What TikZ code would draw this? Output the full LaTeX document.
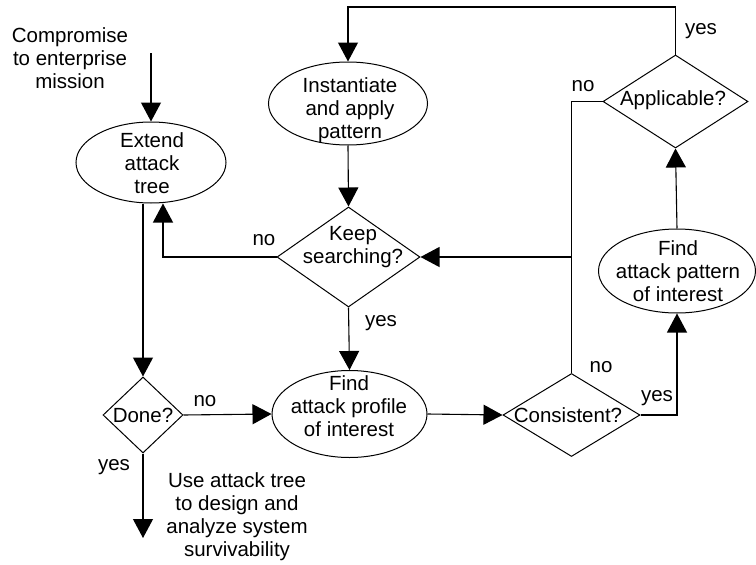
\documentclass[tikz,border=0pt]{standalone}
\usepackage{fontspec}
\setmainfont{Liberation Sans}
\usetikzlibrary{shapes.geometric,arrows.meta}
\begin{document}
\begin{tikzpicture}[x=1pt,y=-1pt,
  line width=1.1pt,
  arr/.style={-{Triangle[length=19pt,width=20pt]}},
  ell/.style={draw,ellipse,inner sep=0pt,line width=1pt},
  dia/.style={draw,diamond,inner sep=0pt,line width=1pt},
  txt/.style={inner sep=0pt,align=center,font=\fontsize{20.5}{23}\selectfont},
  lbl/.style={inner sep=0pt,font=\fontsize{20.5}{23}\selectfont}]
\useasboundingbox (0,0) rectangle (756,565);
% shapes
\node[ell,minimum width=150pt,minimum height=81pt] (ext) at (151,162.5) {};
\node[ell,minimum width=159pt,minimum height=83pt] (inst) at (348,103.5) {};
\node[dia,minimum width=143pt,minimum height=100pt] (keep) at (348.5,257) {};
\node[dia,minimum width=80pt,minimum height=76pt] (done) at (143,415) {};
\node[ell,minimum width=155pt,minimum height=87pt] (prof) at (349.5,414) {};
\node[dia,minimum width=137pt,minimum height=83pt] (cons) at (571.5,415) {};
\node[ell,minimum width=157pt,minimum height=84pt] (patt) at (677,271) {};
\node[dia,minimum width=145pt,minimum height=93pt] (app) at (675.5,101.5) {};
% texts
\node[txt] (tcomp) at (70,58) {Compromise\\to enterprise\\mission};
\node[txt] (text) at (152,163.5) {Extend\\attack\\tree};
\node[txt] (tinst) at (350,110) {Instantiate\\and apply\\pattern};
\node[txt] (tkeep) at (353,247) {Keep\\searching?};
\node[txt] (tdone) at (143,415) {Done?};
\node[txt] (tprof) at (349,406) {Find\\attack profile\\of interest};
\node[txt] (tcons) at (568,415) {Consistent?};
\node[txt] (tpatt) at (678,271) {Find\\attack pattern\\of interest};
\node[txt] (tapp) at (673,100) {Applicable?};
\node[txt] (tuse) at (237,517) {Use attack tree\\to design and\\analyze system\\survivability};
% labels
\node[lbl] (lno1) at (264,240) {no};
\node[lbl] (lyes1) at (381,323) {yes};
\node[lbl] (lno2) at (205,401) {no};
\node[lbl] (lyes2) at (114,467) {yes};
\node[lbl] (lno3) at (601,367) {no};
\node[lbl] (lyes3) at (657,398) {yes};
\node[lbl] (lno4) at (583,86) {no};
\node[lbl] (lyes4) at (701,31) {yes};
% coordinates
\coordinate (start) at (151,53);
\coordinate (finish) at (143,538);
\coordinate (jn) at (571.5,257);
\coordinate (topR) at (675.5,7);
% connectors
\draw[arr] (start) -- (ext.north);
\draw[arr] (done.north |- ext.south) -- (done.north);
\draw[arr] (keep.west) -| ([xshift=12pt]ext.south);
\draw[arr] (inst.south) -- (keep.north);
\draw[arr] (keep.south) -- (prof.north);
\draw[arr] (done.east) -- (prof.west);
\draw[arr] (prof.east) -- (cons.west);
\draw[arr] (cons.east) -| (patt.south);
\draw[arr] (patt.north) -- (app.south);
\draw[arr] (app.north) -- (topR) -| (inst.north);
\draw (app.west) -| (jn);
\draw (cons.north) -- (jn);
\draw[arr] (jn) -- (keep.east);
\draw[arr] (done.south) -- (finish);
\end{tikzpicture}
\end{document}
